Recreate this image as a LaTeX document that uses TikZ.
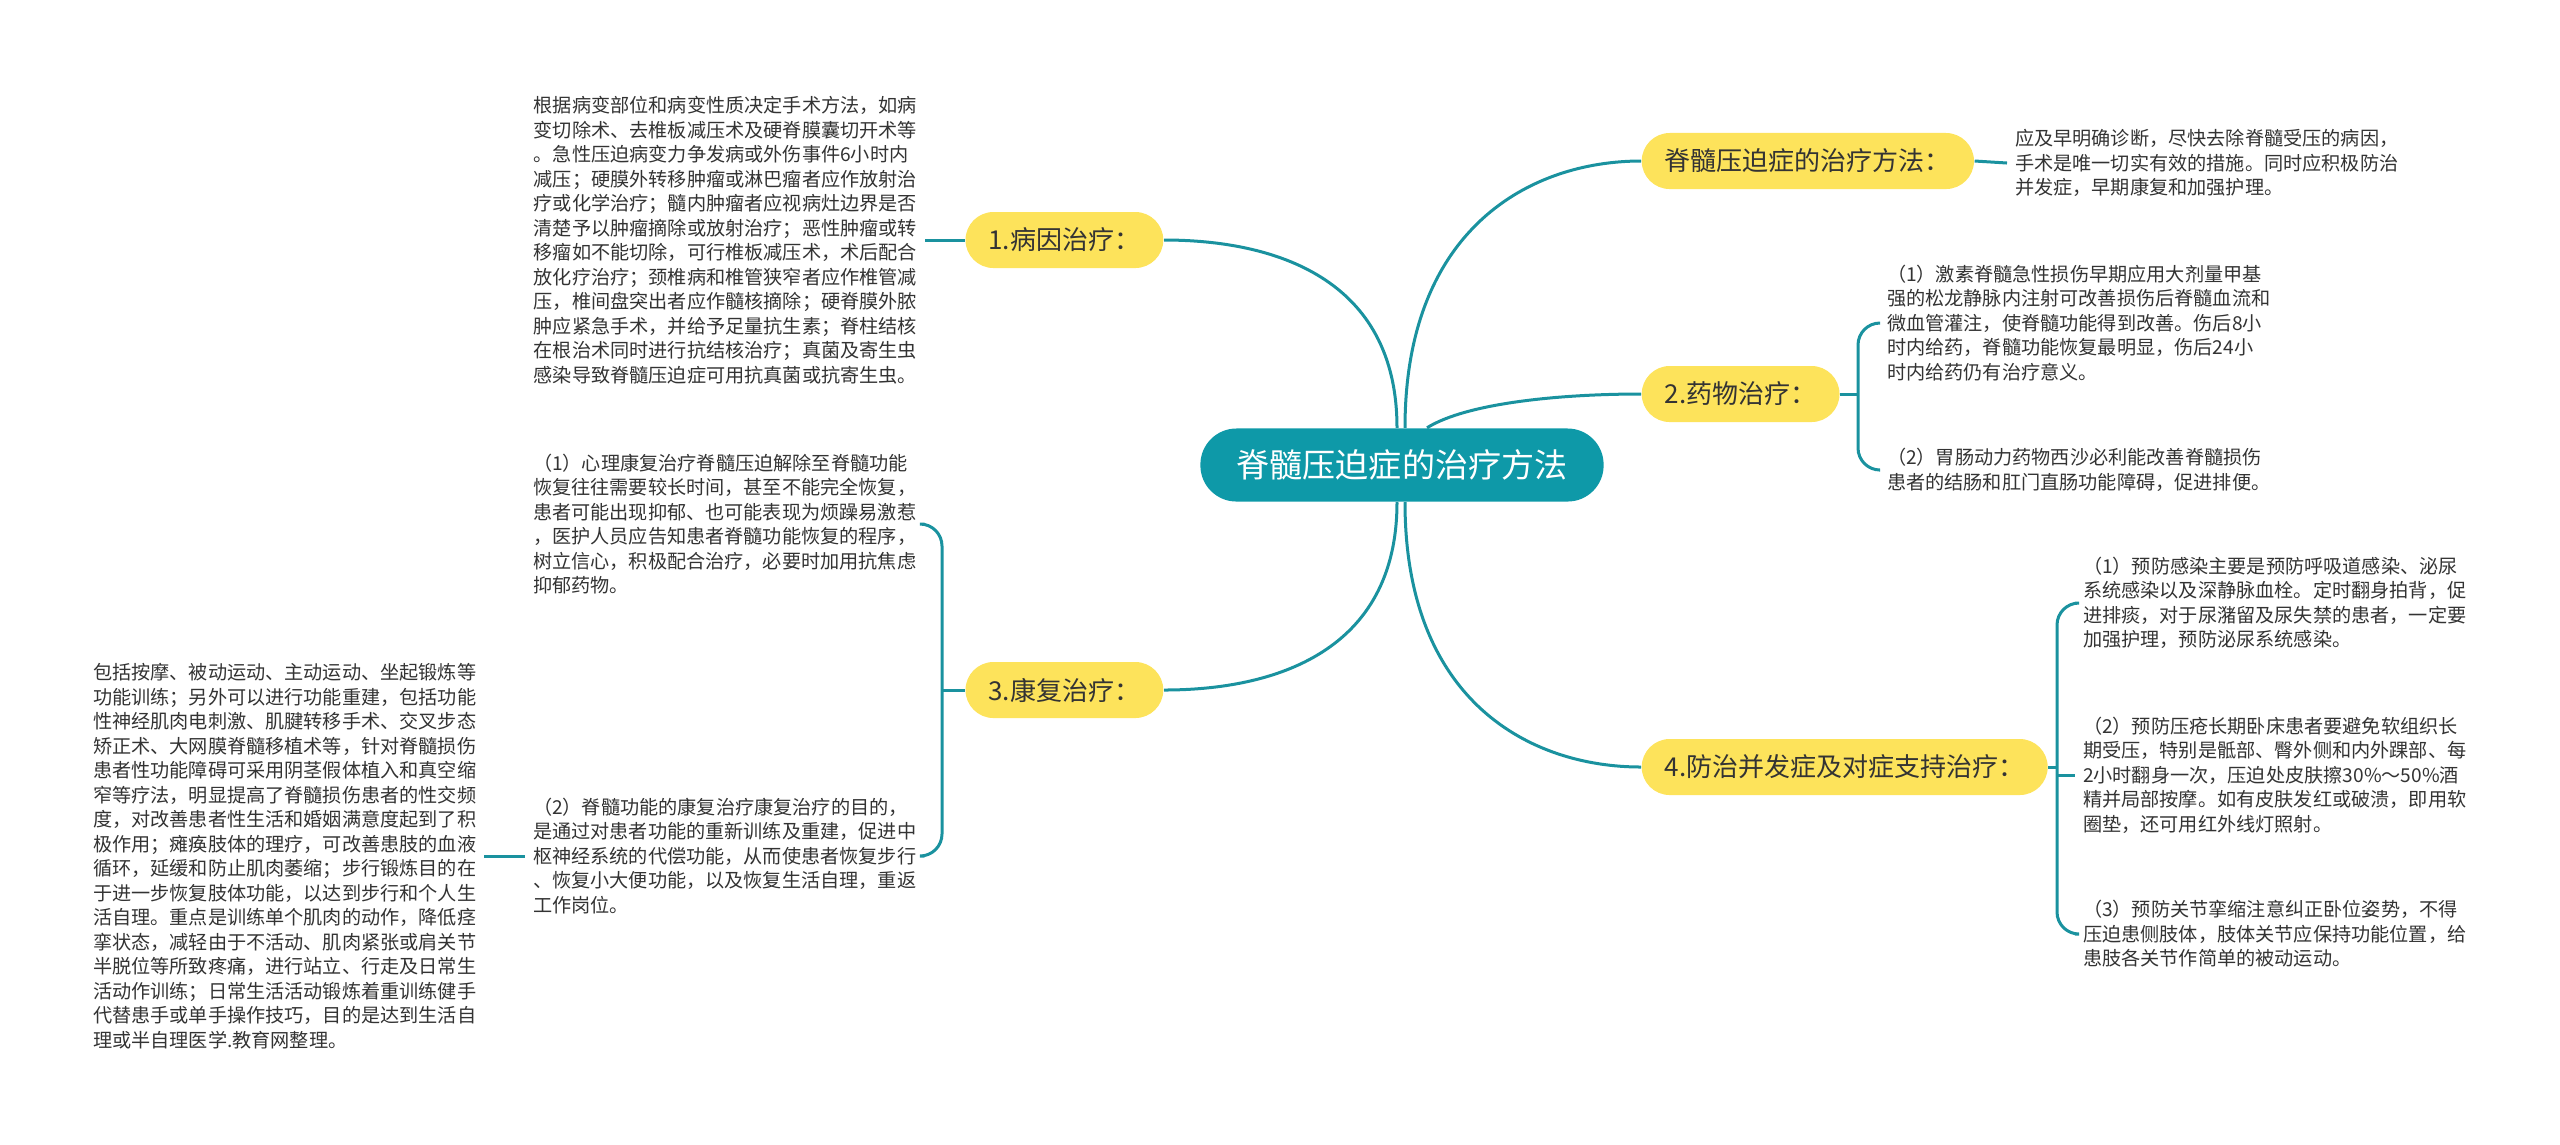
\documentclass[tikz,border=0pt]{standalone}
\usepackage{fontspec}
\setmainfont{Noto Sans CJK SC}
\definecolor{rootteal}{HTML}{0E99A8}
\definecolor{linkteal}{HTML}{1A929F}
\definecolor{topicyellow}{HTML}{FDE35B}
\definecolor{leafgray}{HTML}{333333}
\tikzset{
  root/.style={fill=rootteal, text=white, rounded corners=0.36cm, minimum width=4.03cm,
    minimum height=0.73cm, font=\fontsize{9.4pt}{11pt}\selectfont},
  topic/.style={fill=topicyellow, text=leafgray, rounded corners=0.28cm, minimum height=0.56cm,
    inner xsep=0.23cm, font=\fontsize{7.4pt}{9pt}\selectfont},
  leaf/.style={text=leafgray, align=left, inner sep=0pt, outer xsep=0.08cm,
    font=\fontsize{5.45pt}{6.97pt}\selectfont},
  link/.style={draw=linkteal, line width=0.03cm},
  bracket/.style={link, rounded corners=0.22cm},
}
\begin{document}
\begin{tikzpicture}[x=0.01cm, y=-0.01cm]
  \useasboundingbox (0,0) rectangle (2560,1144);
  \node[root] (c) at (1402,465) {脊髓压迫症的治疗方法};

  \node[topic, anchor=west] (t) at (1641,161) {脊髓压迫症的治疗方法：};
  \node[topic, anchor=west] (n2) at (1641,394) {2.药物治疗：};
  \node[topic, anchor=west] (n4) at (1641,767) {4.防治并发症及对症支持治疗：};
  \node[topic, anchor=east] (n1) at (1164,240) {1.病因治疗：};
  \node[topic, anchor=east] (n3) at (1164,690) {3.康复治疗：};

  \draw[link] ([xshift=0.03cm]c.north) .. controls +(0,-200) and +(-110,0) .. (t.west);
  \draw[link] ([xshift=0.25cm]c.north) .. controls +(40,-25) and +(-80,0) .. (n2.west);
  \draw[link] ([xshift=0.03cm]c.south) .. controls +(0,200) and +(-110,0) .. (n4.west);
  \draw[link] ([xshift=-0.05cm]c.north) .. controls +(0,-150) and +(110,0) .. (n1.east);
  \draw[link] ([xshift=-0.05cm]c.south) .. controls +(0,150) and +(110,0) .. (n3.east);

  % right side
  \node[leaf, anchor=west] (e) at (2007,163) {应及早明确诊断，尽快去除脊髓受压的病因，\\手术是唯一切实有效的措施。同时应积极防治\\并发症，早期康复和加强护理。};
  \node[leaf, anchor=west] (f) at (1879,323) {（1）激素脊髓急性损伤早期应用大剂量甲基\\强的松龙静脉内注射可改善损伤后脊髓血流和\\微血管灌注，使脊髓功能得到改善。伤后8小\\时内给药，脊髓功能恢复最明显，伤后24小\\时内给药仍有治疗意义。};
  \node[leaf, anchor=west] (g) at (1879,470) {（2）胃肠动力药物西沙必利能改善脊髓损伤\\患者的结肠和肛门直肠功能障碍，促进排便。};
  \node[leaf, anchor=west] (h) at (2075,603) {（1）预防感染主要是预防呼吸道感染、泌尿\\系统感染以及深静脉血栓。定时翻身拍背，促\\进排痰，对于尿潴留及尿失禁的患者，一定要\\加强护理，预防泌尿系统感染。};
  \node[leaf, anchor=west] (i) at (2075,775) {（2）预防压疮长期卧床患者要避免软组织长\\期受压，特别是骶部、臀外侧和内外踝部、每\\2小时翻身一次，压迫处皮肤擦30\%～50\%酒\\精并局部按摩。如有皮肤发红或破溃，即用软\\圈垫，还可用红外线灯照射。};
  \node[leaf, anchor=west] (j) at (2075,934) {（3）预防关节挛缩注意纠正卧位姿势，不得\\压迫患侧肢体，肢体关节应保持功能位置，给\\患肢各关节作简单的被动运动。};

  \coordinate (b2) at (1858,394);
  \coordinate (b4) at (2057,767);
  \draw[link] (t.east) -- (e.west);
  \draw[link] (n2.east) -- (b2);
  \draw[bracket] (f.west) -| (b2) |- (g.west);
  \draw[link] (n4.east) -- (b4);
  \draw[bracket] (h.west) -| (b4) |- (j.west);
  \draw[link] (b4 |- i.west) -- (i.west);

  % left side
  \node[leaf, anchor=east] (a) at (925,240) {根据病变部位和病变性质决定手术方法，如病\\变切除术、去椎板减压术及硬脊膜囊切开术等\\。急性压迫病变力争发病或外伤事件6小时内\\减压；硬膜外转移肿瘤或淋巴瘤者应作放射治\\疗或化学治疗；髓内肿瘤者应视病灶边界是否\\清楚予以肿瘤摘除或放射治疗；恶性肿瘤或转\\移瘤如不能切除，可行椎板减压术，术后配合\\放化疗治疗；颈椎病和椎管狭窄者应作椎管减\\压，椎间盘突出者应作髓核摘除；硬脊膜外脓\\肿应紧急手术，并给予足量抗生素；脊柱结核\\在根治术同时进行抗结核治疗；真菌及寄生虫\\感染导致脊髓压迫症可用抗真菌或抗寄生虫。};
  \node[leaf, anchor=west] (b) at (525,524) {（1）心理康复治疗脊髓压迫解除至脊髓功能\\恢复往往需要较长时间，甚至不能完全恢复，\\患者可能出现抑郁、也可能表现为烦躁易激惹\\，医护人员应告知患者脊髓功能恢复的程序，\\树立信心，积极配合治疗，必要时加用抗焦虑\\抑郁药物。};
  \node[leaf, anchor=west] (cc) at (525,856) {（2）脊髓功能的康复治疗康复治疗的目的，\\是通过对患者功能的重新训练及重建，促进中\\枢神经系统的代偿功能，从而使患者恢复步行\\、恢复小大便功能，以及恢复生活自理，重返\\工作岗位。};
  \node[leaf, anchor=west] (d) at (85,856) {包括按摩、被动运动、主动运动、坐起锻炼等\\功能训练；另外可以进行功能重建，包括功能\\性神经肌肉电刺激、肌腱转移手术、交叉步态\\矫正术、大网膜脊髓移植术等，针对脊髓损伤\\患者性功能障碍可采用阴茎假体植入和真空缩\\窄等疗法，明显提高了脊髓损伤患者的性交频\\度，对改善患者性生活和婚姻满意度起到了积\\极作用；瘫痪肢体的理疗，可改善患肢的血液\\循环，延缓和防止肌肉萎缩；步行锻炼目的在\\于进一步恢复肢体功能，以达到步行和个人生\\活自理。重点是训练单个肌肉的动作，降低痉\\挛状态，减轻由于不活动、肌肉紧张或肩关节\\半脱位等所致疼痛，进行站立、行走及日常生\\活动作训练；日常生活活动锻炼着重训练健手\\代替患手或单手操作技巧，目的是达到生活自\\理或半自理医学.教育网整理。};

  \coordinate (b3) at (942,690);
  \draw[link] (n1.west) -- (a.east);
  \draw[link] (n3.west) -- (b3);
  \draw[bracket] (b.east) -| (b3) |- (cc.east);
  \draw[link] (d.east) -- (cc.west);
\end{tikzpicture}
\end{document}
